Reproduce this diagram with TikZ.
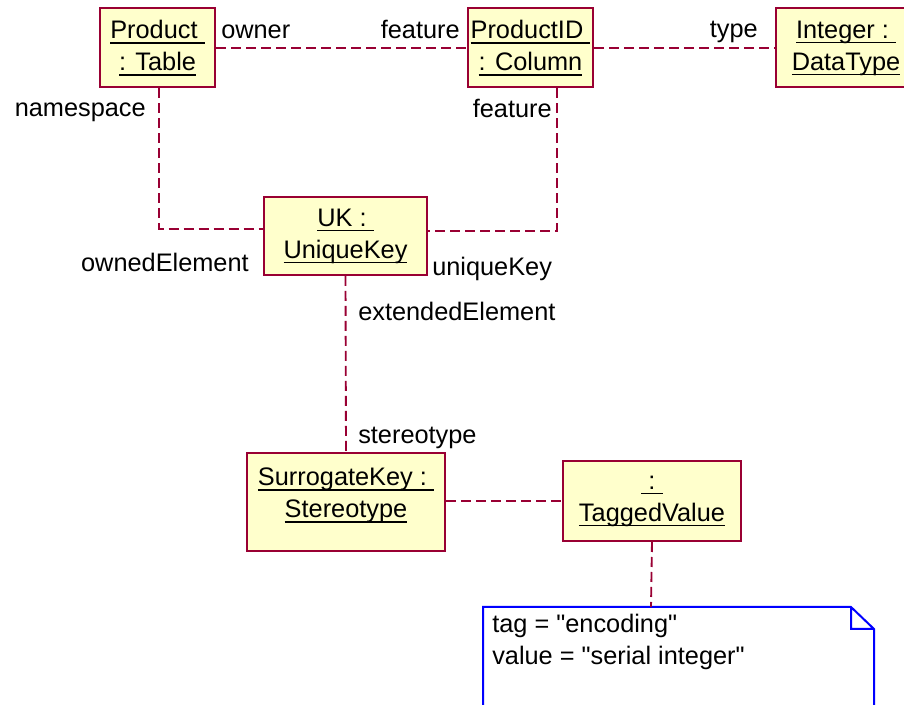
\documentclass[tikz,border=0pt]{standalone}
\usepackage{fontspec}
\setmainfont{Liberation Sans}
\usepackage{tikz}
\usepackage{xcolor}

\definecolor{umlborder}{RGB}{153,0,51}
\definecolor{umlfill}{RGB}{255,255,204}
\newcommand\ulname[1]{\setbox0\hbox{#1}\rlap{\rule[-4pt]{\wd0}{1.3pt}}\box0}

\begin{document}
\begin{tikzpicture}[x=0.75pt,y=-0.75pt,
    every node/.style={font=\fontsize{19pt}{24pt}\selectfont},
    obj/.style={draw=umlborder, fill=umlfill, line width=1.5pt, align=center, inner sep=0pt},
    role/.style={inner sep=0pt},
    link/.style={draw=umlborder, line width=1.4pt, dash pattern=on 7.5pt off 3.75pt}]
    \clip (0,0) rectangle (904,705);
    % objects
    \node[obj, minimum width=86.25pt, minimum height=59.25pt] (prod) at (157.5,48) {\ulname{Product\ }\\\ulname{: Table}};
    \node[obj, minimum width=93.75pt, minimum height=59.25pt] (pid) at (530.5,48) {\ulname{ProductID\ }\\\ulname{: Column}};
    \node[obj, minimum width=105pt, minimum height=59.25pt] (int) at (846,48) {\ulname{Integer :\ }\\\ulname{DataType}};
    \node[obj, minimum width=122.25pt, minimum height=58.5pt] (uk) at (345.5,236) {\ulname{UK :\ }\\\ulname{UniqueKey}};
    \node[obj, minimum width=148.5pt, minimum height=73.5pt] (sk) at (346,502) {\ulname{SurrogateKey :\ }\\\ulname{Stereotype}\rule[-14pt]{0pt}{14pt}};
    \node[obj, minimum width=133.5pt, minimum height=60pt] (tv) at (652,501) {\ulname{\ :\ }\\\ulname{TaggedValue}};
    % note
    \coordinate (notetop) at (651,607);
    \draw[blue, line width=1.5pt] (483,715) -- (483,607) -- (851,607) -- (874,629) -- (874,715)
    (851,607) -- (851,629) -- (874,629);
    \node[inner sep=0pt, align=left, anchor=north west] (note) at (492,614) {tag = \textquotedbl encoding\textquotedbl\\value = \textquotedbl serial integer\textquotedbl};
    % role names
    \node[role, anchor=base west] (owner) at (221,39) {owner};
    \node[role, anchor=base east] (feat1) at (460,39) {feature};
    \node[role, anchor=base east] (type) at (758,38) {type};
    \node[role, anchor=base east] (nsp) at (146,117) {namespace};
    \node[role, anchor=base east] (feat2) at (552,118) {feature};
    \node[role, anchor=base east] (owned) at (249,272) {ownedElement};
    \node[role, anchor=base west] (ukey) at (432,276) {uniqueKey};
    \node[role, anchor=base west] (ext) at (358,321) {extendedElement};
    \node[role, anchor=base west] (stereo) at (358,444) {stereotype};
    % links
    \coordinate (nsbend) at (159,229);
    \coordinate (ukbend) at (557,231);
    \draw[link] (prod.east) -- (pid.west);
    \draw[link] (pid.east) -- (int.west);
    \draw[link] (prod.south -| nsbend) -- (nsbend) -- (uk.west |- nsbend);
    \draw[link] (pid.south -| ukbend) -- (ukbend) -- (uk.east |- ukbend);
    \draw[link] (uk.south) -- (sk.north);
    \draw[link] (sk.east |- tv.west) -- (tv.west);
    \draw[link] (tv.south) -- (notetop);
\end{tikzpicture}
\end{document}
